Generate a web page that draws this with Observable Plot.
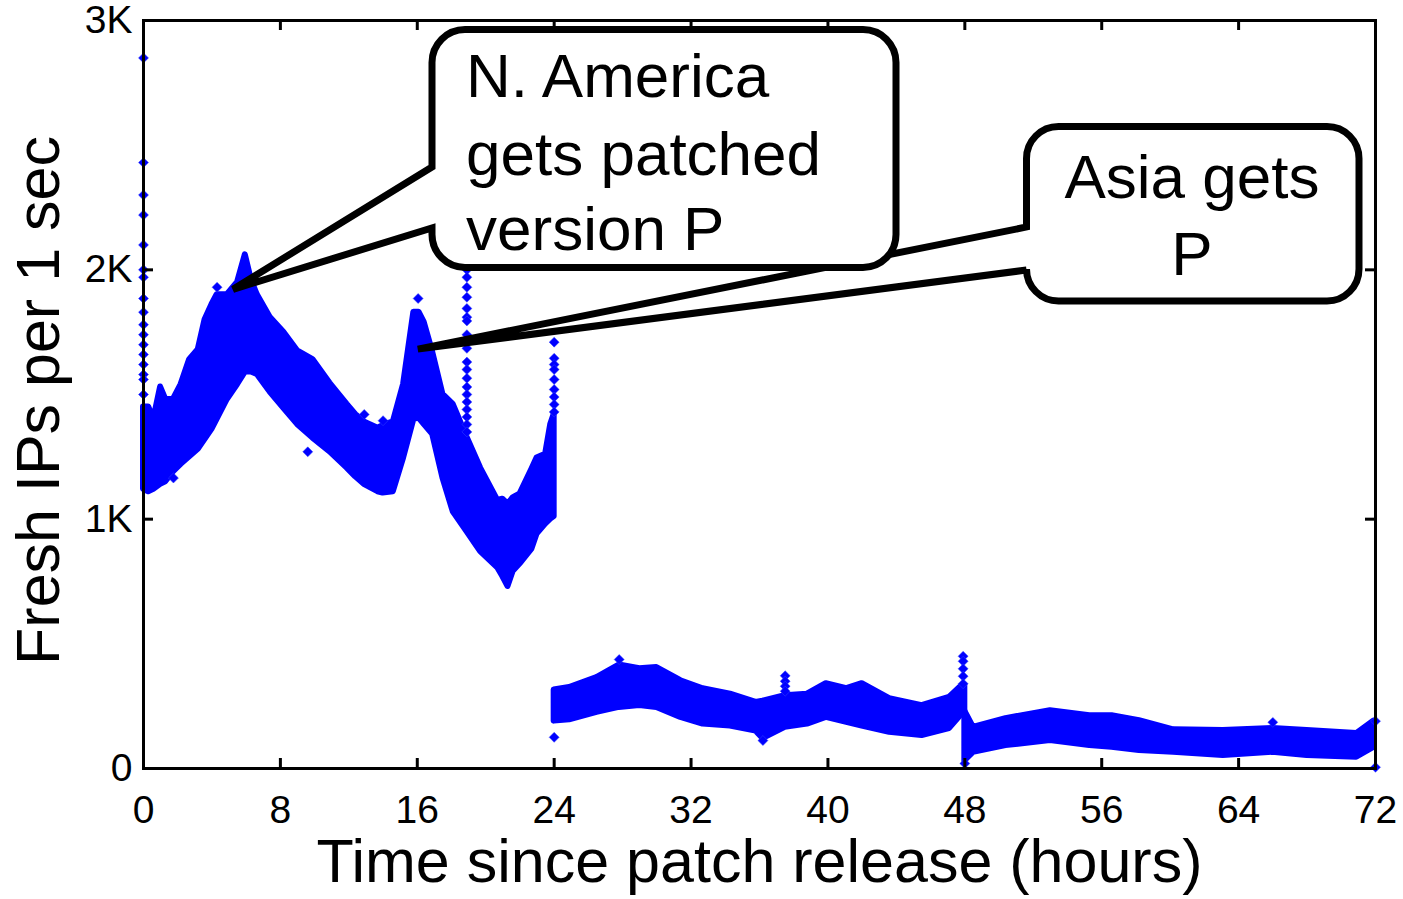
<!DOCTYPE html>
<html><head><meta charset="utf-8">
<script src="https://cdn.jsdelivr.net/npm/d3@7"></script>
<script src="https://cdn.jsdelivr.net/npm/@observablehq/plot@0.6"></script>
<style>html,body{margin:0;padding:0;background:#fff;} svg{display:block}</style>
</head><body><div id="chart"></div>
<script>
// ---- tick values ----
const xTicks = [0, 8, 16, 24, 32, 40, 48, 56, 64, 72];
const yTicks = [0, 1000, 2000, 3000];

// ---- band envelopes (hours, low, high) ----
const day1Hours = [0.0, 0.3, 0.6, 1.0, 1.3, 1.75, 2.2, 2.7, 3.2, 3.6, 4.0, 4.3, 4.9, 5.5, 5.95, 6.3, 6.65, 7.4, 8.2, 9.0, 9.9, 10.9, 11.9, 12.4, 12.9, 13.7, 14.0, 14.6, 15.2, 15.8, 16.1, 16.4, 16.9, 17.5, 18.1, 18.9, 19.7, 20.7, 21.0, 21.3, 21.6, 22.0, 22.7, 23.0, 23.5, 23.8, 24.0];
const day1Low   = [1120, 1110, 1120, 1140, 1150, 1190, 1220, 1250, 1280, 1320, 1360, 1400, 1480, 1540, 1590, 1590, 1580, 1510, 1445, 1380, 1325, 1270, 1205, 1170, 1140, 1110, 1105, 1110, 1245, 1400, 1405, 1380, 1340, 1165, 1030, 950, 870, 805, 770, 730, 790, 820, 880, 940, 980, 1000, 1010];
const day1High  = [1450, 1450, 1400, 1530, 1480, 1480, 1540, 1640, 1680, 1800, 1860, 1900, 1900, 1950, 2060, 1960, 1900, 1810, 1750, 1675, 1640, 1545, 1460, 1420, 1390, 1365, 1375, 1390, 1540, 1830, 1830, 1790, 1670, 1500, 1460, 1330, 1205, 1075, 1080, 1060, 1085, 1100, 1200, 1245, 1260, 1380, 1420];

const day2Hours = [24.0, 24.9, 26.5, 27.8, 29.0, 30.0, 31.4, 32.7, 34.3, 35.8, 36.2, 37.5, 38.8, 39.9, 41.1, 42.0, 43.6, 45.5, 47.1, 47.8, 48.0];
const day2Low   = [190, 195, 225, 245, 253, 245, 205, 178, 170, 150, 120, 165, 178, 205, 185, 170, 145, 132, 160, 215, 220];
const day2High  = [315, 325, 365, 415, 400, 405, 352, 320, 298, 265, 270, 292, 298, 340, 320, 340, 280, 252, 285, 330, 335];

const day3Hours = [48.0, 48.5, 50.4, 53.0, 55.3, 56.6, 58.2, 60.2, 63.1, 66.0, 68.0, 70.9, 71.9];
const day3Low   = [30, 65, 92, 112, 92, 85, 72, 65, 52, 65, 52, 45, 85];
const day3High  = [230, 165, 200, 232, 212, 212, 192, 155, 152, 160, 152, 140, 190];

// ---- isolated points (spikes / outliers) ----
const outlierHours  = [0,0,0,0,0,0,0,0,0,0,0,0,0,0,0,0,0,
  18.9,18.9,18.9,18.9,18.9,18.9,18.9,18.9,18.9,18.9,18.9,18.9,18.9,18.9,18.9,18.9,18.9,18.9,18.9,
  24,24,24,24,24,24,24,24,24,
  24,36.2,37.5,37.5,37.5,37.5,47.9,47.9,47.9,47.9,47.9,27.8,66.0,72,72,48,
  1.75,9.6,4.3,12.9,14.0,16.05];
const outlierValues = [2850,2430,2300,2220,2100,2000,1970,1885,1830,1780,1740,1700,1660,1620,1580,1560,1500,
  2000,1970,1930,1890,1845,1810,1795,1740,1685,1630,1600,1565,1530,1500,1470,1440,1410,1380,1350,
  1710,1645,1620,1600,1560,1520,1490,1460,1430,
  125,112,372,350,330,310,450,430,400,370,340,437,185,5,190,20,
  1165,1270,1930,1420,1395,1885];

// ---- text ----
const xLabel = "Time since patch release (hours)";
const yLabel = "Fresh IPs per 1 sec";
const calloutNA = ["N. America", "gets patched", "version P"];
const calloutAsia = ["Asia gets", "P"];
const calloutTipHours = [5.26, 16.06];
const calloutTipValues = [1920, 1680];

// ---- build table ----
const band = [];
[[day1Hours, day1Low, day1High, "d1"], [day2Hours, day2Low, day2High, "d2"], [day3Hours, day3Low, day3High, "d3"]]
  .forEach(([H, L, U, s]) => H.forEach((h, i) => band.push({h, lo: L[i], hi: U[i], seg: s})));
const outliers = outlierHours.map((h, i) => ({h, v: outlierValues[i]}));

const W = 1403, Hh = 899, mL = 143, mR = 28, mT = 20, mB = 131;
const plotH = Hh - mT - mB, plotW = W - mL - mR;
const FONT = "'Liberation Sans', Arial, Helvetica, sans-serif";

const chart = Plot.plot({
  width: W, height: Hh,
  marginLeft: mL, marginRight: mR, marginTop: mT, marginBottom: mB,
  style: {fontFamily: FONT, background: "white", color: "black", overflow: "visible"},
  x: {domain: [0, 72]},
  y: {domain: [0, 3000]},
  marks: [
    Plot.areaY(band, {x: "h", y1: "lo", y2: "hi", z: "seg", fill: "#0000ff", stroke: "#0000ff", strokeWidth: 6, strokeLinejoin: "round"}),
    Plot.dot(outliers, {x: "h", y: "v", symbol: "diamond2", r: 4.5, fill: "#0000ff", stroke: "#3344ff", strokeWidth: 0.5}),
    // inward ticks
    Plot.ruleX(xTicks, {insetTop: plotH - 10, stroke: "black", strokeWidth: 3}),
    Plot.ruleX(xTicks, {insetBottom: plotH - 10, stroke: "black", strokeWidth: 3}),
    Plot.ruleY(yTicks, {insetRight: plotW - 10, stroke: "black", strokeWidth: 3}),
    Plot.ruleY(yTicks, {insetLeft: plotW - 10, stroke: "black", strokeWidth: 3}),
    Plot.frame({stroke: "black", strokeWidth: 3}),
    Plot.axisX(xTicks, {tickSize: 0, tickPadding: 27, fontSize: 39, label: null}),
    Plot.axisY(yTicks, {tickSize: 0, tickPadding: 11, fontSize: 39, label: null,
      tickFormat: d => d === 0 ? "0" : (d / 1000) + "K"}),
    Plot.text([xLabel], {frameAnchor: "bottom", dy: 94, fontSize: 61, lineAnchor: "middle", textAnchor: "middle", fill: "black"}),
    Plot.text([yLabel], {frameAnchor: "left", rotate: -90, dx: -104.5, dy: 6, fontSize: 61, lineAnchor: "middle", textAnchor: "middle", fill: "black"})
  ]
});

document.getElementById("chart").appendChild(chart);

// ---- callouts ----
const sx = chart.scale("x"), sy = chart.scale("y");
const svg = d3.select(chart);
const g = svg.append("g").attr("font-family", FONT);

function calloutPath(L, T, R, B, r, yb1, yb2, tx, ty) {
  return `M${L + r},${T} H${R - r} A${r},${r} 0 0 1 ${R},${T + r} V${B - r} A${r},${r} 0 0 1 ${R - r},${B} H${L + r} A${r},${r} 0 0 1 ${L},${B - r} V${yb2} L${tx},${ty} L${L},${yb1} V${T + r} A${r},${r} 0 0 1 ${L + r},${T} Z`;
}

// Asia callout first (its pointer passes behind the N. America box)
const tip2x = sx.apply(calloutTipHours[1]), tip2y = sy.apply(calloutTipValues[1]);
g.append("path")
  .attr("d", calloutPath(1026.5, 126.5, 1359, 301, 32, 227, 270, tip2x, tip2y))
  .attr("fill", "white").attr("stroke", "black").attr("stroke-width", 7).attr("stroke-linejoin", "miter").attr("stroke-miterlimit", 3);
const t2 = g.append("text").attr("font-size", 62).attr("text-anchor", "middle").attr("fill", "black");
t2.append("tspan").attr("x", 1192).attr("y", 198).text(calloutAsia[0]);
t2.append("tspan").attr("x", 1192).attr("y", 275).text(calloutAsia[1]);

const tip1x = sx.apply(calloutTipHours[0]), tip1y = sy.apply(calloutTipValues[0]);
g.append("path")
  .attr("d", calloutPath(432, 29.5, 896, 267.5, 33, 167, 228, tip1x, tip1y))
  .attr("fill", "white").attr("stroke", "black").attr("stroke-width", 7).attr("stroke-linejoin", "miter").attr("stroke-miterlimit", 3);
const t1 = g.append("text").attr("font-size", 62).attr("text-anchor", "start").attr("fill", "black");
[97, 175, 250].forEach((yy, i) => t1.append("tspan").attr("x", 466).attr("y", yy).text(calloutNA[i]));
</script>
</body></html>
